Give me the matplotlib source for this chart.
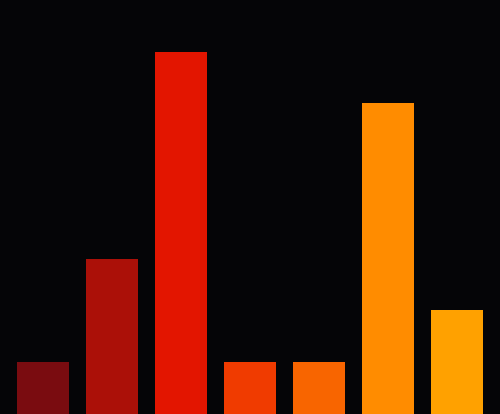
import numpy as np
import matplotlib
matplotlib.use('Agg')
import matplotlib.pyplot as plt

values = [1, 3, 7, 1, 1, 6, 2]
colors = ['#7a0c10', '#ab1008', '#e31500', '#f03b00', '#f86500', '#ff8c00', '#ffa100']

fig = plt.figure(figsize=(5.0, 4.1402), dpi=100, facecolor='#050507')
ax = fig.add_axes([0, 0, 1, 1])
ax.set_facecolor('#050507')

x = np.arange(len(values))
ax.bar(x, values, width=52/69., color=colors, linewidth=0)

ax.set_xlim(-0.377 - 17/69., 6.377 + 17/69.)
ax.set_ylim(0, 8)
ax.axis('off')

plt.savefig('out.png', dpi=100, facecolor=fig.get_facecolor())
